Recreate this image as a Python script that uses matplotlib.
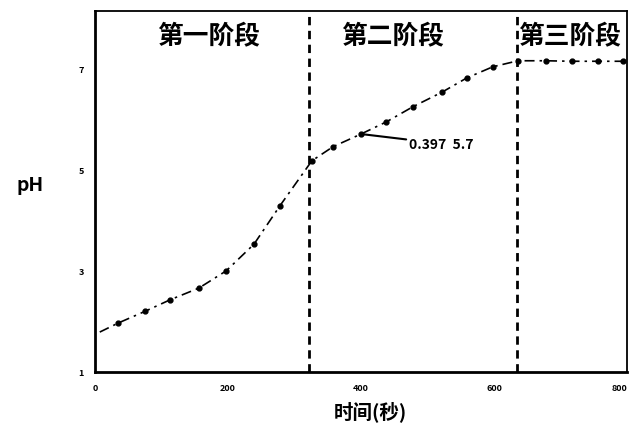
import matplotlib.pyplot as plt

plt.rcParams['font.family'] = ['Noto Sans CJK SC', 'DejaVu Sans']

# pH titration readings (time in seconds)
time = [7, 35, 75, 113, 156, 197, 239, 278, 326, 358, 400, 438, 478,
        522, 559, 598, 636, 678, 717, 756, 794, 800]
ph = [1.79, 1.97, 2.2, 2.43, 2.66, 3.0, 3.53, 4.29, 5.18, 5.46, 5.71, 5.95,
      6.25, 6.54, 6.82, 7.04, 7.16, 7.16, 7.15, 7.15, 7.15, 7.15]
stage_bounds = [322, 635]
stage_names = ['第一阶段', '第二阶段', '第三阶段']
stage_centers = [170, 448, 713]
xticks = [0, 200, 400, 600, 800]
yticks = [1, 3, 5, 7]

fig = plt.figure(figsize=(6.34, 4.27), dpi=100)
ax = fig.add_axes([0.150, 0.1265, 0.839, 0.846])

ax.plot(time, ph, color='black', linestyle=(0, (6, 3, 1.5, 3)), linewidth=1.2)
ax.plot(time[1:-1], ph[1:-1], 'o', color='black', markersize=3.5)

for b in stage_bounds:
    ax.axvline(b, color='black', linestyle=(0, (3, 2)), linewidth=2)

for name, cx in zip(stage_names, stage_centers):
    ax.text(cx, 7.65, name, ha='center', va='center', fontsize=18.5,
            fontweight='bold')

ax.annotate('0.397  5.7', xy=(400, 5.71), xytext=(472, 5.52),
            fontsize=10, fontweight='bold', va='center',
            arrowprops=dict(arrowstyle='-', color='black', lw=1.5,
                            shrinkA=0, shrinkB=0))

ax.set_xlim(0, 800)
ax.set_ylim(1, 8.15)
ax.set_xticks(xticks)
ax.set_yticks(yticks)
ax.tick_params(length=0, labelsize=6.5, pad=8)
for lab in ax.get_xticklabels() + ax.get_yticklabels():
    lab.set_fontweight('bold')
ax.get_xticklabels()[-1].set_horizontalalignment('right')

for side in ['left', 'bottom']:
    ax.spines[side].set_linewidth(2)
for side in ['top', 'right']:
    ax.spines[side].set_linewidth(1.3)

ax.set_xlabel('时间(秒)', fontsize=14, fontweight='bold', va='center')
ax.set_ylabel('pH', fontsize=14, fontweight='bold', rotation=0, va='center')
ax.xaxis.set_label_coords(0.517, -0.108)
ax.yaxis.set_label_coords(-0.122, 0.52)

fig.savefig('out.png', dpi=100)
